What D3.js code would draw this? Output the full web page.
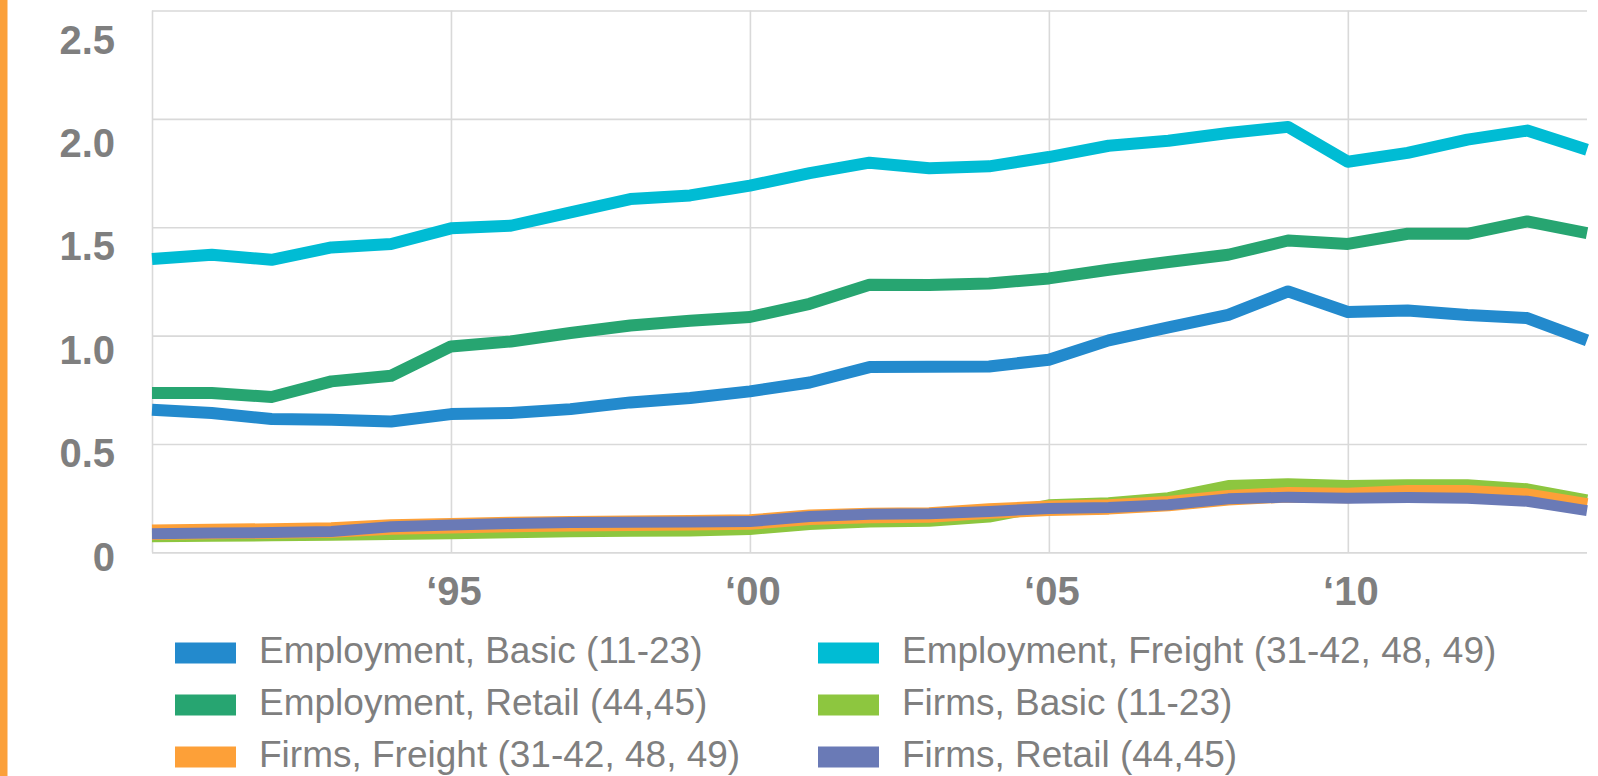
<!DOCTYPE html>
<html>
<head>
<meta charset="utf-8">
<script src="https://cdn.jsdelivr.net/npm/d3@7"></script>
<style>
  html, body { margin: 0; padding: 0; background: #ffffff; }
  svg { display: block; }
  text { font-family: "Liberation Sans", Arial, sans-serif; fill: #7f7f7f; }
</style>
</head>
<body>
<svg id="chart" width="1598" height="776"></svg>
<script>
// Years on the horizontal axis
const years = d3.range(1990, 2015);

// Index values per series, 1990–2014
const empBasic   = [0.658, 0.643, 0.615, 0.612, 0.604, 0.638, 0.643, 0.661, 0.692, 0.712, 0.743, 0.784, 0.855, 0.857, 0.858, 0.889, 0.978, 1.038, 1.096, 1.204, 1.109, 1.116, 1.095, 1.081, 0.978];
const empFreight = [1.354, 1.373, 1.350, 1.407, 1.423, 1.495, 1.507, 1.569, 1.630, 1.647, 1.692, 1.750, 1.798, 1.772, 1.781, 1.824, 1.876, 1.899, 1.935, 1.963, 1.802, 1.843, 1.904, 1.946, 1.858];
const empRetail  = [0.735, 0.735, 0.717, 0.789, 0.815, 0.950, 0.973, 1.012, 1.047, 1.069, 1.086, 1.147, 1.235, 1.234, 1.241, 1.264, 1.304, 1.340, 1.373, 1.439, 1.423, 1.470, 1.470, 1.527, 1.473];
const firmsBasic   = [0.075, 0.077, 0.079, 0.081, 0.085, 0.088, 0.093, 0.097, 0.100, 0.101, 0.108, 0.131, 0.143, 0.146, 0.165, 0.217, 0.227, 0.250, 0.306, 0.314, 0.306, 0.310, 0.310, 0.291, 0.240];
const firmsFreight = [0.093, 0.096, 0.099, 0.103, 0.117, 0.123, 0.129, 0.132, 0.135, 0.137, 0.140, 0.162, 0.170, 0.173, 0.191, 0.204, 0.210, 0.225, 0.252, 0.266, 0.263, 0.275, 0.275, 0.260, 0.214];
const firmsRetail  = [0.086, 0.089, 0.092, 0.096, 0.118, 0.126, 0.133, 0.138, 0.139, 0.140, 0.142, 0.166, 0.176, 0.178, 0.189, 0.203, 0.207, 0.220, 0.247, 0.255, 0.250, 0.253, 0.250, 0.236, 0.193];

const seriesNames = [
  "Employment, Basic (11-23)",
  "Employment, Freight (31-42, 48, 49)",
  "Employment, Retail (44,45)",
  "Firms, Basic (11-23)",
  "Firms, Freight (31-42, 48, 49)",
  "Firms, Retail (44,45)"
];
const seriesValues = [empBasic, empFreight, empRetail, firmsBasic, firmsFreight, firmsRetail];
const seriesColors = ["#238acd", "#00bcd4", "#27a571", "#8dc63f", "#fda038", "#6a7ab6"];
const seriesWidths = [12, 12, 12, 12, 15.5, 11];

// Axis ticks
const yTicks = [0, 0.5, 1.0, 1.5, 2.0, 2.5];
const yTickLabels = ["0", "0.5", "1.0", "1.5", "2.0", "2.5"];
const xTicks = [1995, 2000, 2005, 2010];
const xTickLabels = ["\u201895", "\u201800", "\u201805", "\u201810"];

const svg = d3.select("#chart");

// Orange accent bar on the left edge
svg.append("rect").attr("x", 0).attr("y", 0).attr("width", 7.5).attr("height", 776).attr("fill", "#fba03a");

const x = d3.scaleLinear().domain([1990, 2014]).range([152, 1587]);
const y = d3.scaleLinear().domain([0, 2.5]).range([552.4, 10.5]);
// Baselines for the value labels on the left
const yLabel = d3.scaleLinear().domain([0, 2.5]).range([570.6, 53.6]);

const plotW = x.range()[1] - x.range()[0];
const plotH = y.range()[0] - y.range()[1];

// Horizontal gridlines
const gy = svg.append("g")
  .attr("transform", `translate(${x(1990)},0)`)
  .call(d3.axisRight(y).tickValues(yTicks).tickSize(plotW).tickFormat(""));
gy.select(".domain").remove();
gy.selectAll(".tick line").attr("stroke", "#d9d9d9").attr("stroke-width", 1.6);

// Vertical gridlines (including the left edge of the plot)
const gx = svg.append("g")
  .attr("transform", `translate(0,${y(0)})`)
  .call(d3.axisTop(x).tickValues([1990].concat(xTicks)).tickSize(plotH).tickFormat(""));
gx.select(".domain").remove();
gx.selectAll(".tick line").attr("stroke", "#d9d9d9").attr("stroke-width", 1.6);

// Value labels
svg.append("g").selectAll("text")
  .data(yTicks)
  .join("text")
  .attr("x", 115)
  .attr("y", d => yLabel(d))
  .attr("text-anchor", "end")
  .style("font-size", "40px")
  .style("font-weight", "bold")
  .text((d, i) => yTickLabels[i]);

// Year labels
svg.append("g").selectAll("text")
  .data(xTicks)
  .join("text")
  .attr("x", d => x(d) + 3)
  .attr("y", 605)
  .attr("text-anchor", "middle")
  .style("font-size", "40px")
  .style("font-weight", "bold")
  .text((d, i) => xTickLabels[i]);

// Series lines
const line = d3.line()
  .x((d, i) => x(years[i]))
  .y(d => y(d));

svg.append("g").selectAll("path")
  .data(seriesValues)
  .join("path")
  .attr("d", d => line(d))
  .attr("fill", "none")
  .attr("stroke", (d, i) => seriesColors[i])
  .attr("stroke-width", (d, i) => seriesWidths[i])
  .attr("stroke-linejoin", "round")
  .attr("stroke-linecap", "butt");

// Legend: two columns, filled row by row
const legend = svg.append("g");
const colX = [175, 818];
const rowY = [653, 705, 757];
seriesNames.forEach((name, i) => {
  const cx = colX[i % 2];
  const cy = rowY[Math.floor(i / 2)];
  legend.append("rect")
    .attr("x", cx).attr("y", cy - 10.5)
    .attr("width", 61).attr("height", 21)
    .attr("fill", seriesColors[i]);
  legend.append("text")
    .attr("x", cx + 84)
    .attr("y", cy + 10)
    .style("font-size", "37px")
    .text(name);
});
</script>
</body>
</html>
